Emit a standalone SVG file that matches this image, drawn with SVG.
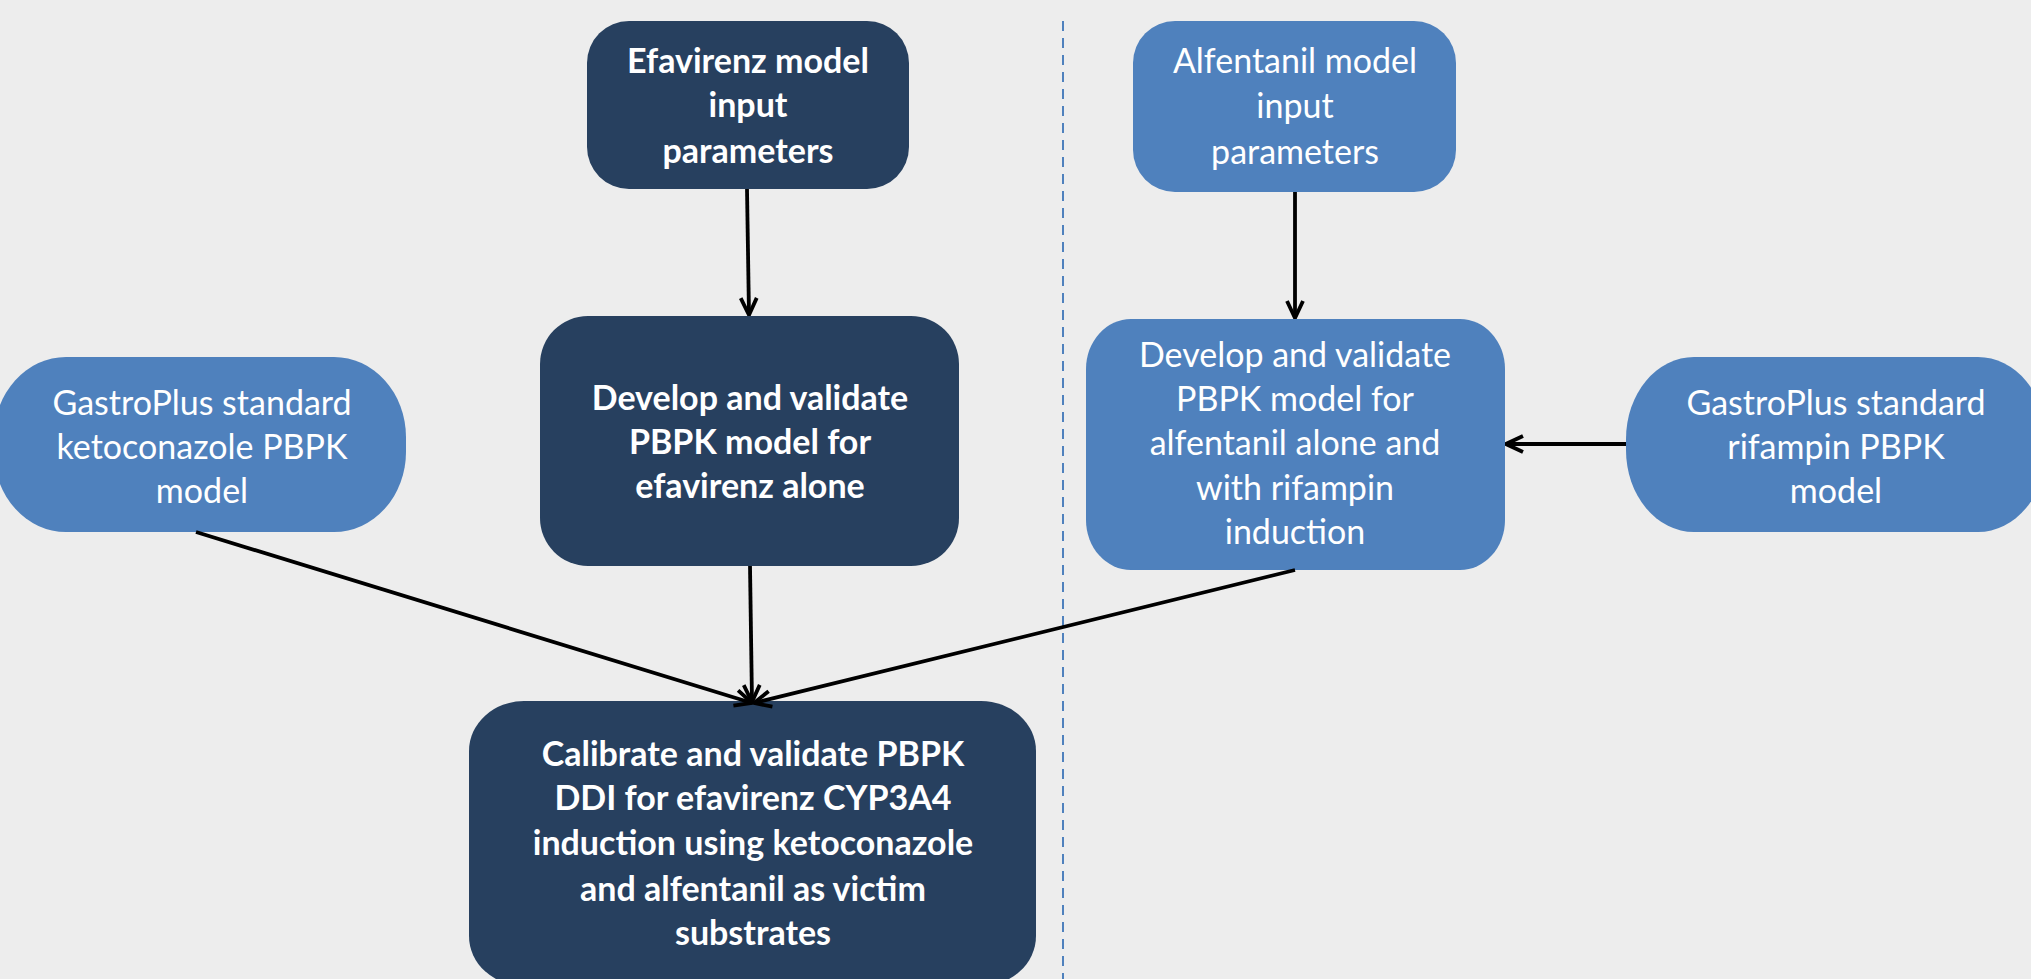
<svg xmlns="http://www.w3.org/2000/svg" width="2031" height="979" viewBox="0 0 2031 979">
<style>
.dark{fill:#27405F}
.light{fill:#4F81BD}
.t{font-family:Lato,"Open Sans","Liberation Sans",sans-serif;font-size:34px;fill:#FFFFFF;text-anchor:middle}
.b{font-weight:bold}
.c{stroke:#000;stroke-width:3.8;fill:none}
</style>
<defs>
<marker id="ah" viewBox="0 0 20 20" refX="19" refY="10" markerWidth="20" markerHeight="20" markerUnits="userSpaceOnUse" orient="auto">
<path d="M2,2 L19,10 L2,18" fill="none" stroke="#000" stroke-width="3.8"/>
</marker>
</defs>
<rect width="2031" height="979" fill="#EDEDED"/>
<line x1="1063" y1="21" x2="1063" y2="979" stroke="#4F81BD" stroke-width="2" stroke-dasharray="10,7"/>

<g id="n-efav-input">
<rect class="dark" x="587" y="21" width="322" height="168" rx="42" ry="42"/>
<text class="t b" x="748" y="73">Efavirenz model</text>
<text class="t b" x="748" y="117">input</text>
<text class="t b" x="748" y="163">parameters</text>
</g>

<g id="n-efav-develop">
<rect class="dark" x="540" y="316" width="419" height="250" rx="48" ry="48"/>
<text class="t b" x="750" y="410">Develop and validate</text>
<text class="t b" x="750" y="454">PBPK model for</text>
<text class="t b" x="750" y="498">efavirenz alone</text>
</g>

<g id="n-calibrate">
<rect class="dark" x="469" y="701" width="567" height="285" rx="55" ry="50"/>
<text class="t b" x="753" y="766">Calibrate and validate PBPK</text>
<text class="t b" x="753" y="810">DDI for efavirenz CYP3A4</text>
<text class="t b" x="753" y="855">induction using ketoconazole</text>
<text class="t b" x="753" y="901">and alfentanil as victim</text>
<text class="t b" x="753" y="945">substrates</text>
</g>

<g id="n-keto">
<rect class="light" x="-6" y="357" width="412" height="175" rx="72" ry="80"/>
<text class="t" x="202" y="415">GastroPlus standard</text>
<text class="t" x="202" y="459">ketoconazole PBPK</text>
<text class="t" x="202" y="503">model</text>
</g>

<g id="n-alf-input">
<rect class="light" x="1133" y="21" width="323" height="171" rx="42" ry="42"/>
<text class="t" x="1295" y="73">Alfentanil model</text>
<text class="t" x="1295" y="118">input</text>
<text class="t" x="1295" y="164">parameters</text>
</g>

<g id="n-alf-develop">
<rect class="light" x="1086" y="319" width="419" height="251" rx="45" ry="50"/>
<text class="t" x="1295" y="367">Develop and validate</text>
<text class="t" x="1295" y="411">PBPK model for</text>
<text class="t" x="1295" y="455">alfentanil alone and</text>
<text class="t" x="1295" y="500">with rifampin</text>
<text class="t" x="1295" y="544">induction</text>
</g>

<g id="n-rif">
<rect class="light" x="1626" y="357" width="420" height="175" rx="68" ry="82"/>
<text class="t" x="1836" y="415">GastroPlus standard</text>
<text class="t" x="1836" y="459">rifampin PBPK</text>
<text class="t" x="1836" y="503">model</text>
</g>

<g id="connectors">
<line class="c" x1="747" y1="189" x2="749" y2="315" marker-end="url(#ah)"/>
<line class="c" x1="1295" y1="192" x2="1295" y2="318" marker-end="url(#ah)"/>
<line class="c" x1="1626" y1="444" x2="1506" y2="444" marker-end="url(#ah)"/>
<line class="c" x1="196" y1="532" x2="752" y2="703" marker-end="url(#ah)"/>
<line class="c" x1="750" y1="566" x2="752" y2="702" marker-end="url(#ah)"/>
<line class="c" x1="1295" y1="570" x2="754" y2="703" marker-end="url(#ah)"/>
</g>
</svg>
